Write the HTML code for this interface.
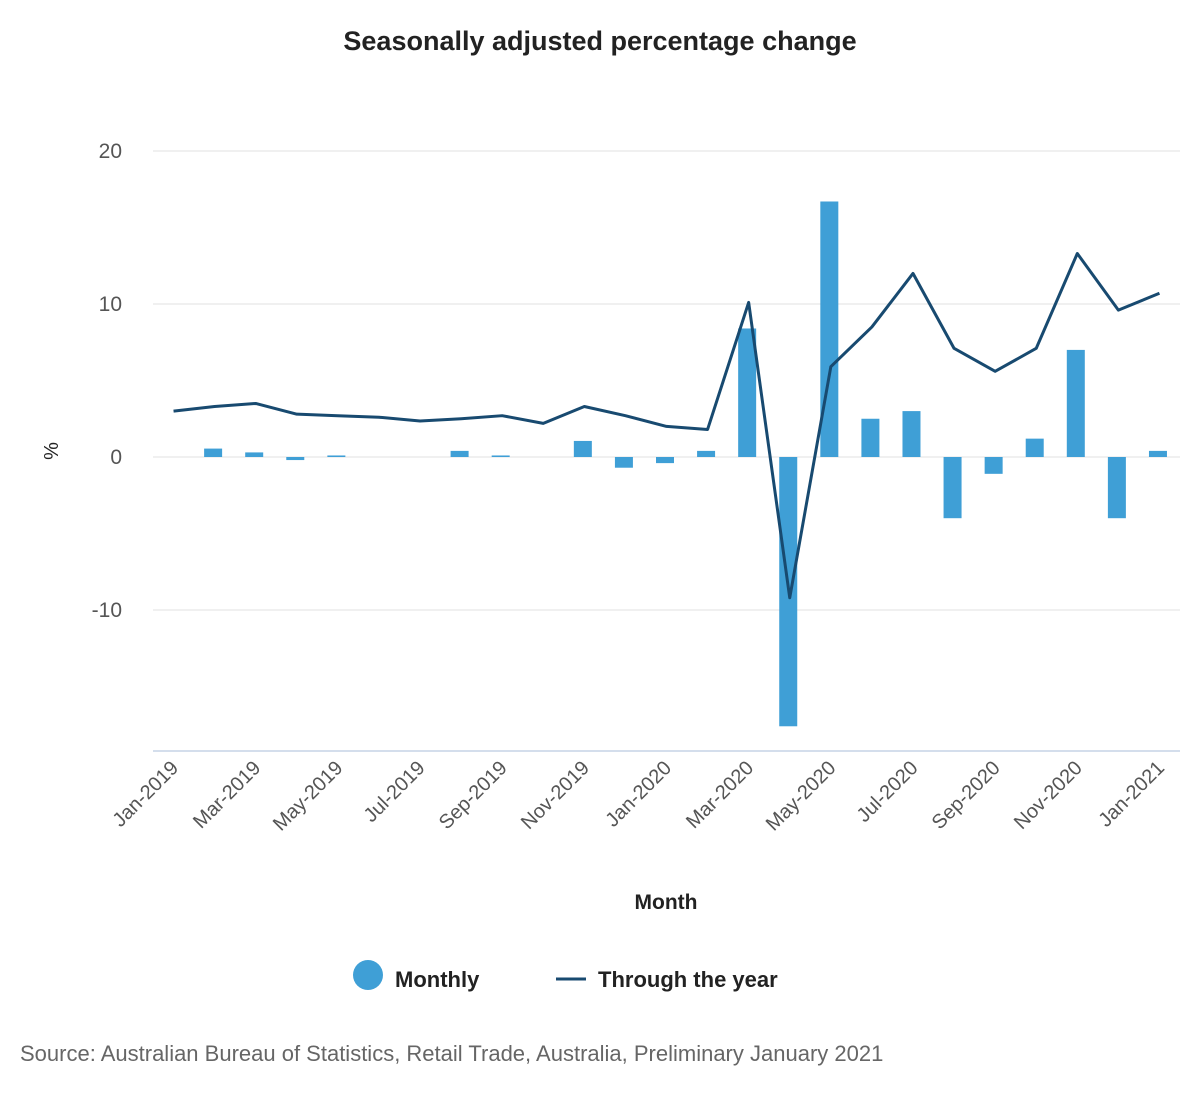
<!DOCTYPE html>
<html><head><meta charset="utf-8"><style>
body{margin:0;background:#fff;width:1200px;height:1100px;overflow:hidden;font-family:"Liberation Sans",sans-serif}
</style></head><body>
<svg id="chart" width="1200" height="1100" xmlns="http://www.w3.org/2000/svg">
<text x="600" y="50" text-anchor="middle" font-size="27" font-weight="bold" fill="#222">Seasonally adjusted percentage change</text>
<g id="grid"></g><g id="bars"></g><g id="line"></g><g id="xlabels"></g>
<text transform="translate(58,451) rotate(-90)" text-anchor="middle" font-size="20" fill="#222">%</text>
<text x="666" y="909" text-anchor="middle" font-size="21" font-weight="bold" fill="#222">Month</text>
<g><circle cx="368" cy="975" r="15" fill="#3f9fd6"/><text x="395" y="987" font-size="22" font-weight="bold" fill="#222">Monthly</text></g>
<g><line x1="556" y1="979" x2="586" y2="979" stroke="#184a70" stroke-width="3"/><text x="598" y="987" font-size="22" font-weight="bold" fill="#222">Through the year</text></g>
<text x="20" y="1061" font-size="22" fill="#666">Source: Australian Bureau of Statistics, Retail Trade, Australia, Preliminary January 2021</text>
</svg>
<script>
const categories=["Jan-2019","Feb-2019","Mar-2019","Apr-2019","May-2019","Jun-2019","Jul-2019","Aug-2019","Sep-2019","Oct-2019","Nov-2019","Dec-2019","Jan-2020","Feb-2020","Mar-2020","Apr-2020","May-2020","Jun-2020","Jul-2020","Aug-2020","Sep-2020","Oct-2020","Nov-2020","Dec-2020","Jan-2021"];
const monthly=[0,0.55,0.3,-0.2,0.1,0,0,0.4,0.1,0,1.05,-0.7,-0.4,0.4,8.4,-17.6,16.7,2.5,3.0,-4.0,-1.1,1.2,7.0,-4.0,0.4];
const throughYear=[3.0,3.3,3.5,2.8,2.7,2.6,2.35,2.5,2.7,2.2,3.3,2.7,2.0,1.8,10.1,-9.2,5.9,8.5,12.0,7.1,5.6,7.1,13.3,9.6,10.7];
const yTicks=[20,10,0,-10];
const NS="http://www.w3.org/2000/svg";
const x0=153,x1=1180,band=(x1-x0)/categories.length;
const xc=i=>x0+band*(i+0.5);
const y=v=>457-v*15.3;
function mk(t,p,a){const e=document.createElementNS(NS,t);for(const k in a)e.setAttribute(k,a[k]);document.getElementById(p).appendChild(e);return e;}
yTicks.forEach(v=>{
 const l=mk('line','grid',{x1:x0,x2:x1,y1:y(v),y2:y(v),stroke:'#e0e0e0','stroke-width':1});
 
 
 const t=mk('text','grid',{x:122,y:y(v)+7,'text-anchor':'end','font-size':21,fill:'#555'});
 t.textContent=v;
 
 
});
const ax=mk('line','grid',{x1:x0,x2:x1,y1:751,y2:751,stroke:'#c5d3e6','stroke-width':1.5});


monthly.forEach((v,i)=>{
 const r=mk('rect','bars',{x:xc(i)-10.5,width:18,y:Math.min(y(v),y(0)),height:Math.abs(y(v)-y(0)),fill:'#3f9fd6'});
 
 
});
const p=mk('polyline','line',{points:throughYear.map((v,i)=>xc(i)+','+y(v)).join(' '),fill:'none',stroke:'#184a70','stroke-width':3,'stroke-linejoin':'round'});


categories.forEach((c,i)=>{
 if(i%2)return;
 const t=mk('text','xlabels',{transform:`translate(${xc(i)+6},${769}) rotate(-45)`,'text-anchor':'end','font-size':20,fill:'#555'});
 t.textContent=c;
 
 
});
</script>
</body></html>
